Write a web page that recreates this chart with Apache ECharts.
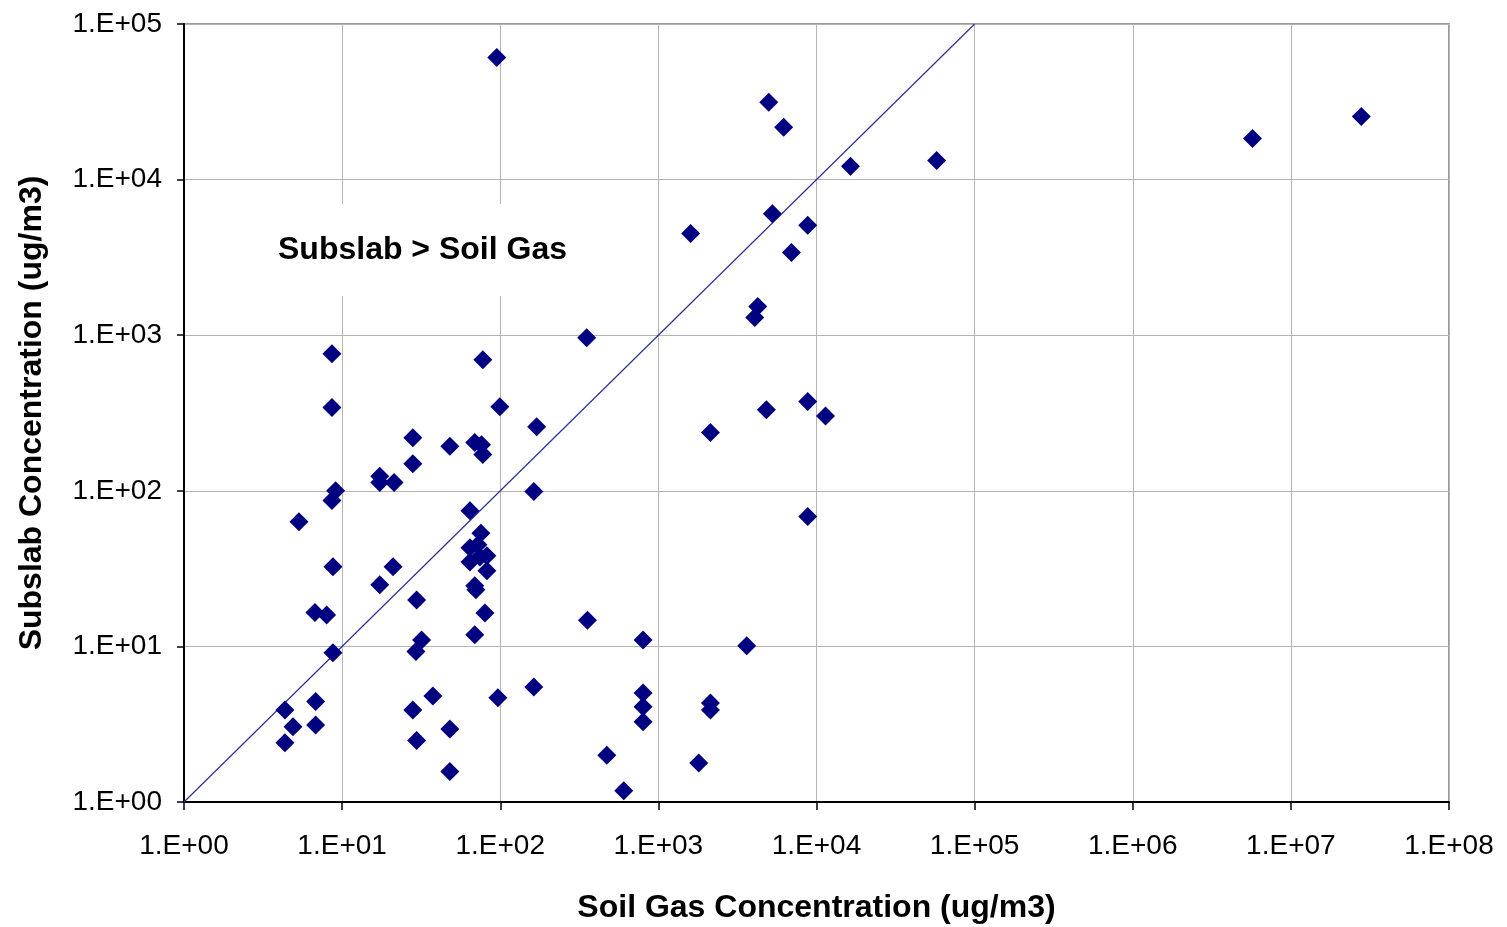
<!DOCTYPE html>
<html>
<head>
<meta charset="utf-8">
<title>Subslab vs Soil Gas</title>
<script src="https://cdn.jsdelivr.net/npm/echarts@6/dist/echarts.min.js"></script>
<style>
  html, body { margin: 0; padding: 0; background: #fff; }
  #chart { width: 1507px; height: 927px; }
</style>
</head>
<body>
<div id="chart"></div>
<script>
// soil gas (x) and subslab (y) concentrations, ug/m3
const soilGas = [
  95, 4990, 6200, 16400, 57500, 5.72e6, 2.79e7, 1600, 5260, 8800,
  6940, 4250, 4070, 352, 8.62, 77.6, 8.62, 99.4, 8800, 4820,
  11400, 2135, 170, 28, 48, 69, 76.2, 77.6, 28, 17.3,
  17.3, 21.3, 9.1, 8.62, 163, 8800, 5.33, 64.3, 75.4, 64.3,
  72.2, 82.3, 64.3, 74.3, 82.3, 69, 70.1, 80, 69, 21,
  17.3, 8.75, 6.73, 7.98, 8.75, 29.6, 31.8, 29.3, 4.35, 6.8,
  4.89, 6.8, 4.35, 28, 37.5, 29.6, 48, 48, 96.6, 163,
  356, 800, 3620, 800, 800, 800, 2135, 2135, 472, 1800,
  604
]
const subslab = [
  61000, 31400, 21700, 12200, 13250, 18400, 25400, 4500, 6040, 5080,
  3400, 1530, 1300, 964, 760, 696, 343, 347, 375, 332,
  303, 237, 258, 219, 193, 204, 198, 171, 149, 124,
  113, 113, 100, 86.6, 99, 68.4, 63.2, 74.4, 53.3, 43,
  45, 38.2, 34.9, 37.6, 30.6, 24.5, 23.1, 16.4, 11.9, 32.5,
  24.9, 32.5, 16.5, 15.9, 9.1, 19.9, 11, 9.26, 3.9, 4.42,
  3.05, 3.13, 2.4, 3.9, 4.8, 2.48, 2.95, 1.57, 4.67, 5.49,
  14.7, 11, 10.1, 5.02, 4.1, 3.28, 4.33, 3.9, 2.0, 1.78,
  1.18
]
// 1:1 line
const oneToOne = [1, 100000]
const labelText = 'Subslab > Soil Gas'

const chart = echarts.init(document.getElementById('chart'))

function expLabel(v) {
  const e = Math.round(Math.log10(v))
  return '1.E+' + (e < 10 ? '0' + e : e)
}

const tickLabel = {
  fontFamily: 'Liberation Sans, Arial, sans-serif',
  fontSize: 28,
  color: '#000'
}
const titleStyle = {
  fontFamily: 'Liberation Sans, Arial, sans-serif',
  fontSize: 32,
  fontWeight: 'bold',
  color: '#000'
}

const option = {
  animation: false,
  backgroundColor: '#fff',
  grid: {
    left: 184,
    right: 58,
    top: 24,
    bottom: 125,
    containLabel: false,
    outerBoundsMode: 'none',
    show: true,
    borderColor: '#9a9a9a',
    borderWidth: 2
  },
  xAxis: {
    type: 'log',
    logBase: 10,
    min: 1,
    max: 1e8,
    name: 'Soil Gas Concentration (ug/m3)',
    nameLocation: 'middle',
    nameGap: 90,
    nameTextStyle: titleStyle,
    axisLine: { lineStyle: { color: '#000', width: 2 } },
    axisTick: { show: true, inside: false, length: 8, lineStyle: { color: '#000', width: 1.5 } },
    axisLabel: Object.assign({ margin: 30, formatter: expLabel }, tickLabel),
    splitLine: { show: true, lineStyle: { color: '#b4b4b4', width: 1 } },
    minorTick: { show: false }
  },
  yAxis: {
    type: 'log',
    logBase: 10,
    min: 1,
    max: 1e5,
    name: 'Subslab Concentration (ug/m3)',
    nameLocation: 'middle',
    nameGap: 136,
    nameTextStyle: titleStyle,
    axisLine: { lineStyle: { color: '#000', width: 2 } },
    axisTick: { show: true, inside: false, length: 7, lineStyle: { color: '#000', width: 1.5 } },
    axisLabel: Object.assign({ margin: 22, formatter: expLabel }, tickLabel),
    splitLine: { show: true, lineStyle: { color: '#b4b4b4', width: 1 } }
  },
  series: [
    {
      type: 'line',
      data: oneToOne.map(v => [v, v]),
      symbol: 'none',
      lineStyle: { color: '#2e2e96', width: 1.2 },
      silent: true,
      z: 2
    },
    {
      type: 'scatter',
      data: soilGas.map((x, i) => [x, subslab[i]]),
      symbol: 'diamond',
      symbolSize: 19,
      itemStyle: { color: '#000080', opacity: 1 },
      z: 3
    }
  ],
  graphic: [
    {
      type: 'text',
      left: 264,
      top: 204,
      z: 10,
      style: {
        text: labelText,
        font: 'bold 32px "Liberation Sans", Arial, sans-serif',
        fill: '#000',
        backgroundColor: '#fff',
        padding: [30, 14, 30, 14]
      }
    }
  ]
}

chart.setOption(option)
</script>
</body>
</html>
